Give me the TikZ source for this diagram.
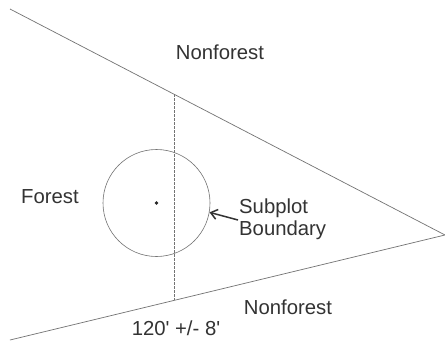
\documentclass[tikz,border=0pt]{standalone}
\usepackage{fontspec}
\setmainfont{Liberation Sans}
\usetikzlibrary{arrows.meta}
\begin{document}
\begin{tikzpicture}[x=1pt,y=-1pt,
  edge/.style={draw=black!55, line width=0.7pt},
  dashline/.style={draw=black!55, line width=0.6pt, dash pattern=on 2.5pt off 1.5pt},
  lbl/.style={font=\fontsize{20.3}{23}\selectfont, text=black!80, inner sep=0pt},
  pointer/.style={draw=black!80, line width=1.5pt, -{Straight Barb[length=6.5pt,width=10pt]}}]
\useasboundingbox[fill=white] (0,0) rectangle (445,343);
\coordinate (tl) at (10,9);
\coordinate (bl) at (10,340);
\coordinate (apex) at (445,235);
\coordinate (dtop) at (174,94.2);
\coordinate (dbot) at (174,300.4);
\draw[edge] (tl) -- (apex) -- (bl);
\draw[dashline] (dtop) -- (dbot);
\node[circle, draw=black!55, line width=0.6pt, minimum size=107pt, inner sep=0pt] (plot) at (156.5,203) {};
\fill[black!85] (plot.center) circle (1.8pt);
\node[lbl] (nf1) at (220,52) {Nonforest};
\node[lbl] (forest) at (50,197) {Forest};
\node[lbl, align=left, anchor=west, text width=90pt] (sub) at (239,219) {Subplot\\[-1pt]Boundary};
\node[lbl] (nf2) at (288,307) {Nonforest};
\node[lbl] (dist) at (176,328) {120\textquotesingle\ +/- 8\textquotesingle};
\coordinate (arrstart) at (238,220);
\draw[pointer] (arrstart) -- (plot.-10);
\end{tikzpicture}
\end{document}
